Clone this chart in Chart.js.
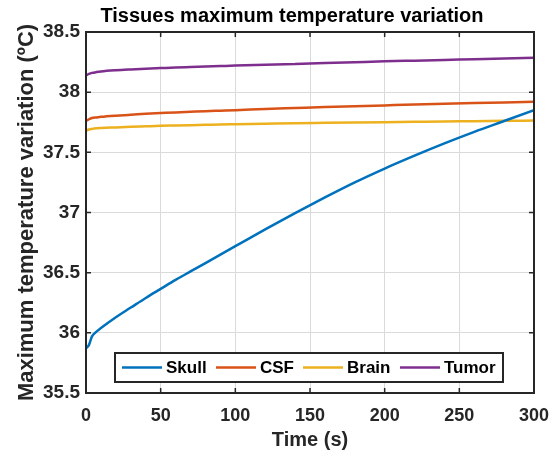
<!DOCTYPE html>
<html><head><meta charset="utf-8">
<script src="https://cdn.jsdelivr.net/npm/chart.js@4/dist/chart.umd.min.js"></script>
<style>html,body{margin:0;padding:0;background:#fff;}canvas{display:block;}</style>
</head><body>
<canvas id="c" width="558" height="459"></canvas>
<script>
const times = [0,2,4,7,10,20,30,40,50,60,70,80,90,100,120,140,160,180,200,220,240,260,280,300];
const skull = [35.87,35.90,35.97,36.01,36.04,36.13,36.21,36.29,36.365,36.44,36.51,36.58,36.65,36.72,36.86,36.995,37.125,37.25,37.365,37.472,37.574,37.67,37.76,37.85];
const csf = [37.76,37.775,37.785,37.79,37.795,37.805,37.812,37.82,37.826,37.832,37.837,37.842,37.846,37.85,37.86,37.868,37.876,37.883,37.89,37.897,37.903,37.909,37.914,37.92];
const brain = [37.68,37.69,37.695,37.70,37.702,37.707,37.712,37.716,37.72,37.723,37.726,37.729,37.732,37.734,37.738,37.742,37.745,37.748,37.751,37.754,37.757,37.759,37.762,37.764];
const tumor = [38.14,38.152,38.16,38.167,38.172,38.182,38.189,38.195,38.2,38.205,38.209,38.213,38.217,38.221,38.228,38.235,38.242,38.249,38.256,38.262,38.268,38.274,38.28,38.287];
const seriesNames = ['Skull','CSF','Brain','Tumor'];
const colors = ['#0072BD','#D95319','#EDB120','#7E2F8E'];
const titleText = 'Tissues maximum temperature variation';
const xTitle = 'Time (s)';
const yTitle = 'Maximum temperature variation (ºC)';

const FONT = 'Arial, "Liberation Sans", Helvetica, sans-serif';
const toXY = arr => arr.map((v,i)=>({x:times[i], y:v}));

const boxPlugin = {
  id:'box',
  afterDraw(chart){
    const {ctx, chartArea:a, scales} = chart;
    ctx.save();
    ctx.strokeStyle = '#262626'; ctx.lineWidth = 1.5;
    const L = 5;
    scales.x.ticks.forEach(t=>{
      const px = scales.x.getPixelForValue(t.value);
      ctx.beginPath(); ctx.moveTo(px,a.bottom); ctx.lineTo(px,a.bottom-L);
      ctx.moveTo(px,a.top); ctx.lineTo(px,a.top+L); ctx.stroke();
    });
    scales.y.ticks.forEach(t=>{
      const py = scales.y.getPixelForValue(t.value);
      ctx.beginPath(); ctx.moveTo(a.left,py); ctx.lineTo(a.left+L,py);
      ctx.moveTo(a.right,py); ctx.lineTo(a.right-L,py); ctx.stroke();
    });
    ctx.strokeStyle = '#262626'; ctx.lineWidth = 2;
    ctx.strokeRect(a.left, a.top, a.right-a.left, a.bottom-a.top);
    ctx.fillStyle = '#000';
    ctx.font = 'bold 20px ' + FONT;
    ctx.textAlign = 'center'; ctx.textBaseline = 'middle';
    ctx.fillText(titleText, 292, 16);
    const lx = 115, ly = 353, lw = 388, lh = 29;
    ctx.fillStyle = '#fff';
    ctx.fillRect(lx, ly, lw, lh);
    ctx.strokeStyle = '#262626'; ctx.lineWidth = 2;
    ctx.strokeRect(lx, ly, lw, lh);
    const starts = [122, 216, 303, 400];
    const cy = ly + lh/2;
    ctx.font = 'bold 17px ' + FONT;
    ctx.textAlign = 'left';
    chart.data.datasets.forEach((ds,i)=>{
      ctx.strokeStyle = ds.borderColor; ctx.lineWidth = 2.5;
      ctx.beginPath(); ctx.moveTo(starts[i], cy); ctx.lineTo(starts[i]+40, cy); ctx.stroke();
      ctx.fillStyle = '#000';
      ctx.fillText(ds.label, starts[i]+44, cy+1);
    });
    ctx.restore();
  }
};

new Chart(document.getElementById('c'), {
  type:'line',
  data:{
    datasets:[skull,csf,brain,tumor].map((arr,i)=>({
      label: seriesNames[i], data: toXY(arr), borderColor: colors[i], backgroundColor: colors[i],
      borderWidth: 2.5, pointRadius: 0, fill:false, cubicInterpolationMode:'monotone'
    }))
  },
  options:{
    responsive:false, animation:false, devicePixelRatio:1,
    layout:{padding:{left:0, top:32, right:24, bottom:0}},
    plugins:{legend:{display:false}, title:{display:false}, tooltip:{enabled:false}},
    scales:{
      x:{
        type:'linear', min:0, max:300,
        ticks:{stepSize:50, color:'#262626', font:{family:FONT, size:18, weight:'bold'}, padding:12, maxRotation:0},
        grid:{color:'#dadada', lineWidth:1, drawTicks:false},
        border:{display:false},
        title:{display:true, text:xTitle, color:'#262626', font:{family:FONT, size:20, weight:'bold'}, padding:{top:0,bottom:7}},
        afterFit(s){ s.height = 66; s.paddingLeft = 0; s.paddingRight = 0; }
      },
      y:{
        type:'linear', min:35.5, max:38.5,
        ticks:{stepSize:0.5, color:'#262626', font:{family:FONT, size:19, weight:'bold'}, padding:6, callback:v=>String(v)},
        grid:{color:'#dadada', lineWidth:1, drawTicks:false},
        border:{display:false},
        title:{display:true, text:yTitle, color:'#262626', font:{family:FONT, size:22, weight:'bold'}, padding:{top:14,bottom:0}},
        afterFit(s){ s.width = 86; s.paddingTop = 0; s.paddingBottom = 0; }
      }
    }
  },
  plugins:[boxPlugin]
});
</script>
</body></html>
